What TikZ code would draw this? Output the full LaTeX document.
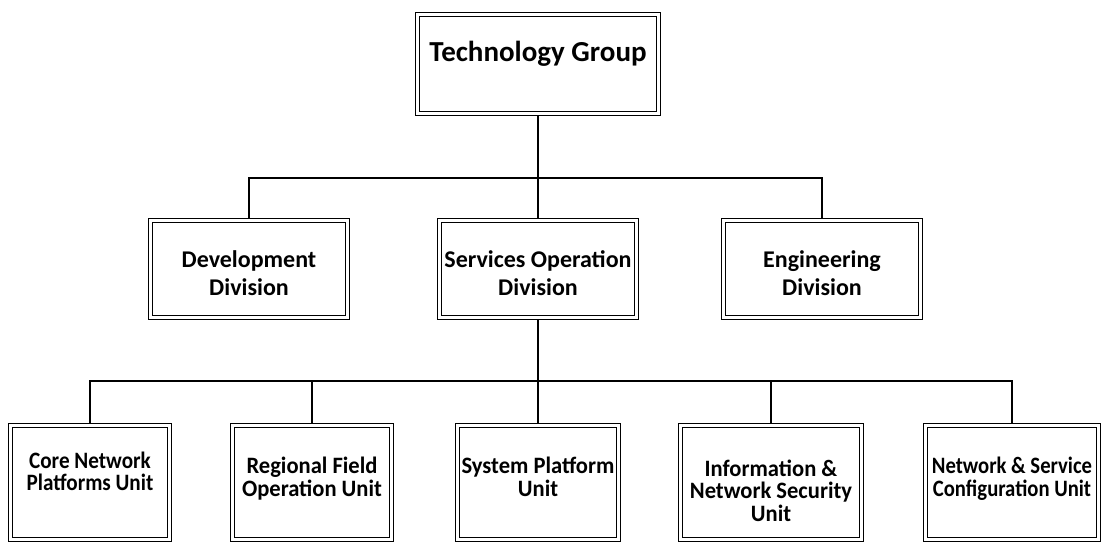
\documentclass[tikz,border=0pt]{standalone}
\usepackage{fontspec}
\setmainfont{Carlito}
% unit labels are set in slightly condensed variants of the same face
\newfontfamily\unitnarrow[FakeStretch=0.88]{Carlito}
\newfontfamily\unitmid[FakeStretch=0.90]{Carlito}
\newfontfamily\unitwide[FakeStretch=0.96]{Carlito}
\begin{document}
\begin{tikzpicture}[x=1pt,y=-1pt,
  orgbox/.style={draw=black, line width=1pt, double=white, double distance=3pt,
                 inner sep=0pt, outer sep=2.5pt},
  link/.style={draw=black, line width=2pt},
  toptext/.style={anchor=north, inner sep=0pt, align=center,
                  font=\bfseries\fontsize{29}{34}\selectfont},
  divtext/.style={anchor=north, inner sep=0pt, align=center,
                  font=\bfseries\fontsize{24}{28}\selectfont},
  unittext/.style={anchor=north, inner sep=0pt, align=center,
                   font=#1\bfseries\fontsize{23.5}{22.5}\selectfont},
  unittext/.default=\unitwide,
]
\useasboundingbox (0,0) rectangle (1102,544);

% top level
\node[orgbox, minimum width=241pt, minimum height=99pt] (tg) at (538,64) {};
\node[toptext] (tg-t) at (538,41) {Technology Group};

% divisions
\node[orgbox, minimum width=197pt, minimum height=97pt] (dev) at (249,269) {};
\node[orgbox, minimum width=197pt, minimum height=97pt] (svc) at (538,269) {};
\node[orgbox, minimum width=197pt, minimum height=97pt] (eng) at (822,269) {};
\node[divtext] (dev-t) at (249,250) {Development\\Division};
\node[divtext] (svc-t) at (538,250) {Services Operation\\Division};
\node[divtext] (eng-t) at (822,250) {Engineering\\Division};

% units
\node[orgbox, minimum width=159pt, minimum height=114pt] (core) at (90,482.5) {};
\node[orgbox, minimum width=159pt, minimum height=114pt] (reg)  at (312,482.5) {};
\node[orgbox, minimum width=161pt, minimum height=114pt] (sys)  at (538,482.5) {};
\node[orgbox, minimum width=181pt, minimum height=114pt] (info) at (771,482.5) {};
\node[orgbox, minimum width=173pt, minimum height=114pt] (net)  at (1012,482.5) {};
\node[unittext=\unitmid]    (core-t) at (90,451.5) {Core Network\\Platforms Unit};
\node[unittext]             (reg-t)  at (312,457) {Regional Field\\Operation Unit};
\node[unittext]             (sys-t)  at (538,457) {System Platform\\Unit};
\node[unittext]             (info-t) at (771,459.5) {Information \&\\Network Security\\Unit};
\node[unittext=\unitnarrow] (net-t)  at (1012,457) {Network \& Service\\Configuration Unit};

% connectors
\coordinate (bar1) at (538,178);
\coordinate (bar2) at (538,381);
\draw[link] (tg.south) -- (svc.north);
\draw[link] (dev.north) |- (bar1) -| (eng.north);
\draw[link] (svc.south) -- (sys.north);
\draw[link] (core.north) |- (bar2) -| (net.north);
\draw[link] (reg.north) -- (reg.north |- bar2);
\draw[link] (info.north) -- (info.north |- bar2);
\end{tikzpicture}
\end{document}
